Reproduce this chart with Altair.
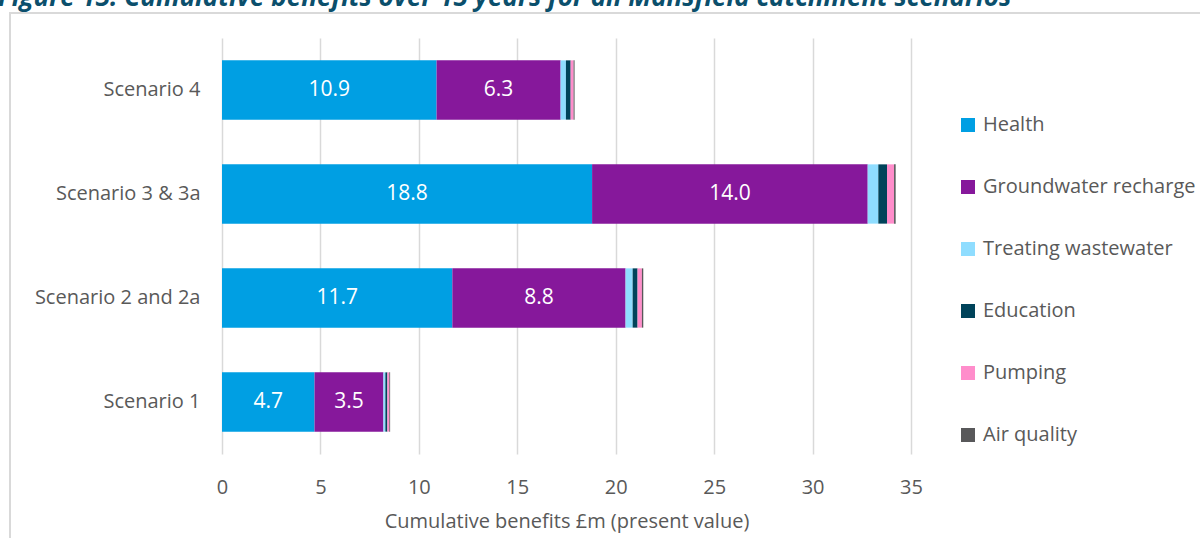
import altair as alt
import pandas as pd

scenarios = ["Scenario 4", "Scenario 3 & 3a", "Scenario 2 and 2a", "Scenario 1"]
categories = ["Health", "Groundwater recharge", "Treating wastewater",
              "Education", "Pumping", "Air quality"]
colors = ["#009FE3", "#86189B", "#8FDDFF", "#00435A", "#FF8DCB", "#58585A"]

health = [10.9, 18.8, 11.7, 4.7]
groundwater = [6.3, 14.0, 8.8, 3.5]
treating = [0.27, 0.54, 0.36, 0.10]
education = [0.24, 0.44, 0.25, 0.10]
pumping = [0.15, 0.36, 0.22, 0.10]
air_quality = [0.05, 0.08, 0.07, 0.04]

series = [health, groundwater, treating, education, pumping, air_quality]
x_ticks = [0, 5, 10, 15, 20, 25, 30, 35]

rows = []
for si, s in enumerate(scenarios):
    start = 0.0
    for ci, c in enumerate(categories):
        v = series[ci][si]
        rows.append({"scenario": s, "category": c, "order": ci,
                     "value": v, "start": start, "end": start + v,
                     "mid": start + v / 2,
                     "label": f"{v:.1f}" if ci < 2 else ""})
        start += v
df = pd.DataFrame(rows)

FONT = "Open Sans"
GREY = "#595959"
FS = 20

y_enc = alt.Y("scenario:N", sort=scenarios, title=None,
              scale=alt.Scale(paddingInner=0.43, paddingOuter=0.215),
              axis=alt.Axis(labelFont=FONT, labelFontSize=FS, labelColor=GREY,
                            labelPadding=22, ticks=False, domain=False))

bars = alt.Chart(df).mark_bar().encode(
    x=alt.X("start:Q", scale=alt.Scale(domain=[0, 35], nice=False),
            title="Cumulative benefits £m (present value)",
            axis=alt.Axis(values=x_ticks, labelFont=FONT, labelFontSize=FS,
                          labelColor=GREY, labelPadding=23, ticks=False,
                          labelFlush=False,
                          domain=False, grid=True, gridColor="#D9D9D9",
                          gridWidth=1.5, titleFont=FONT, titleFontSize=FS,
                          titleColor=GREY, titleFontWeight="normal",
                          titlePadding=14)),
    x2="end:Q",
    y=y_enc,
    color=alt.Color("category:N", sort=categories,
                    scale=alt.Scale(domain=categories, range=colors),
                    legend=alt.Legend(title=None, orient="none",
                                      legendX=736, legendY=77,
                                      symbolType="square", symbolSize=196,
                                      symbolStrokeWidth=0,
                                      labelFont=FONT, labelFontSize=FS,
                                      labelColor=GREY, labelOffset=5,
                                      rowPadding=42, labelLimit=400)),
    order=alt.Order("order:Q"),
)

labels = alt.Chart(df).mark_text(color="white", font=FONT, fontSize=21,
                                 baseline="middle").encode(
    x=alt.X("mid:Q"),
    y=alt.Y("scenario:N", sort=scenarios),
    text="label:N",
)

deco = pd.DataFrame({"t": ["Figure 13: Cumulative benefits over 15 years for all Mansfield catchment scenarios"]})
border = alt.Chart(deco).mark_rect(fill=None, stroke="#D9D9D9", strokeWidth=2).encode(
    x=alt.value(-212), x2=alt.value(1100), y=alt.value(-25), y2=alt.value(600))
title = alt.Chart(deco).mark_text(align="left", baseline="alphabetic", font=FONT,
                                  fontSize=26, fontWeight="bold", fontStyle="italic",
                                  color="#0B4F6C").encode(
    x=alt.value(-224), y=alt.value(-32), text="t:N")

chart = alt.layer(border, bars, labels, title).properties(
    width=689, height=416,
    autosize=alt.AutoSizeParams(type="none"),
    padding={"left": 222, "top": 38, "right": 289, "bottom": 84},
    background="white",
).configure_view(stroke=None)

chart.save("out.html", embed_options={"renderer": "svg", "actions": False})
